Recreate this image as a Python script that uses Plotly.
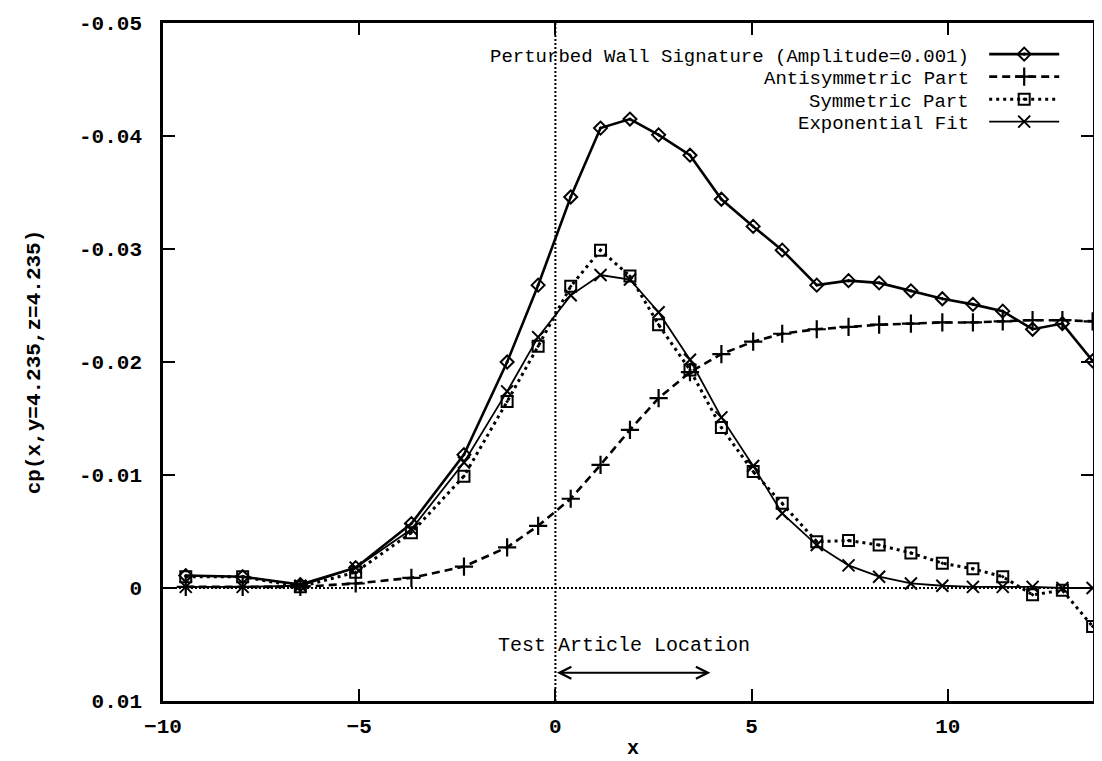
import plotly.graph_objects as go

# ---- data ----
x_vals = [-9.42, -7.97, -6.50, -5.09, -3.67, -2.33, -1.23, -0.44, 0.39, 1.15,
          1.90, 2.63, 3.43, 4.23, 5.04, 5.78, 6.66, 7.47, 8.25, 9.06,
          9.86, 10.64, 11.40, 12.16, 12.92, 13.69]

perturbed = [-0.0011, -0.0010, -0.0003, -0.0018, -0.0057, -0.0118, -0.0200, -0.0268, -0.0346, -0.0407,
             -0.0415, -0.0401, -0.0383, -0.0344, -0.0320, -0.0299, -0.0268, -0.0272, -0.0270, -0.0263,
             -0.0256, -0.0251, -0.0245, -0.0229, -0.0234, -0.0201]

antisymmetric = [-0.0001, -0.0001, -0.0001, -0.0004, -0.0009, -0.0019, -0.0036, -0.0055, -0.0079, -0.0109,
                 -0.0140, -0.0168, -0.0191, -0.0207, -0.0218, -0.0225, -0.0229, -0.0231, -0.0233, -0.0234,
                 -0.0235, -0.0235, -0.0236, -0.0237, -0.0237, -0.0236]

symmetric = [-0.0010, -0.0010, -0.0001, -0.0014, -0.0049, -0.0099, -0.0165, -0.0214, -0.0267, -0.0299,
             -0.0276, -0.0233, -0.0193, -0.0142, -0.0103, -0.0075, -0.0041, -0.0042, -0.0038, -0.0031,
             -0.0022, -0.0017, -0.0010, 0.0006, 0.0002, 0.0034]

exp_fit = [-0.0001, -0.0001, -0.0002, -0.0018, -0.0052, -0.0111, -0.0174, -0.0222, -0.0259, -0.0277,
           -0.0273, -0.0244, -0.0202, -0.0151, -0.0108, -0.0066, -0.0038, -0.0020, -0.0010, -0.0004,
           -0.0002, -0.0001, -0.0001, -0.0001, 0.0000, 0.0000]

series_names = ["Perturbed Wall Signature (Amplitude=0.001)",
                "Antisymmetric Part",
                "Symmetric Part",
                "Exponential Fit"]

x_ticks = [-10, -5, 0, 5, 10]
y_ticks = [-0.05, -0.04, -0.03, -0.02, -0.01, 0, 0.01]
y_tick_labels = ["-0.05", "-0.04", "-0.03", "-0.02", "-0.01", "0", "0.01"]

x_range = [-10, 13.7]
y_range = [0.01, -0.05]

x_title = "x"
y_title = "cp(x,y=4.235,z=4.235)"

article_start = 0
article_end = 3.95
article_level = 0.0075
article_label = "Test Article Location"
article_label_pos = (1.74, 0.0051)

FONT = "Liberation Mono, Courier New, monospace"
INK = "black"

styles = [
    dict(line=dict(color=INK, width=2.6, dash="solid"),
         marker=dict(symbol="diamond-open-dot", size=10, color=INK, line=dict(width=2, color=INK))),
    dict(line=dict(color=INK, width=2.6, dash="8px,5px"),
         marker=dict(symbol="cross-thin-open", size=13, color=INK, line=dict(width=2.2, color=INK))),
    dict(line=dict(color=INK, width=3, dash="3px,4px"),
         marker=dict(symbol="square-open-dot", size=11, color=INK, line=dict(width=2, color=INK))),
    dict(line=dict(color=INK, width=1.8, dash="solid"),
         marker=dict(symbol="x-thin-open", size=12, color=INK, line=dict(width=2, color=INK))),
]

series = [perturbed, antisymmetric, symmetric, exp_fit]

fig = go.Figure()
for name, ys, st in zip(series_names, series, styles):
    fig.add_trace(go.Scatter(x=x_vals, y=ys, mode="lines+markers", name=" ",
                             line=st["line"], marker=st["marker"], showlegend=True,
                             hoverinfo="skip"))

# zero axes (gnuplot style dotted)
fig.add_hline(y=0, line=dict(color=INK, width=2, dash="2px,2px"), layer="below")
fig.add_vline(x=0, line=dict(color=INK, width=2, dash="2px,2px"), layer="below")

# legend texts, right aligned like gnuplot key
legend_rows_y = [0.950, 0.917, 0.884, 0.851]
annotations = []
for name, yy in zip(series_names, legend_rows_y):
    annotations.append(dict(text=name, xref="paper", yref="paper", x=0.869, y=yy,
                            xanchor="right", yanchor="middle", showarrow=False,
                            font=dict(family=FONT, size=19, color=INK)))

# x axis title (placed as text below the tick labels)
annotations.append(dict(text=x_title, xref="paper", yref="paper", x=0.505, y=-0.070,
                        xanchor="center", yanchor="middle", showarrow=False,
                        font=dict(family=FONT, size=20, color=INK, weight="bold")))

annotations.append(dict(text=article_label, x=article_label_pos[0], y=article_label_pos[1],
                        xref="x", yref="y", showarrow=False, xanchor="center", yanchor="middle",
                        font=dict(family=FONT, size=20, color=INK)))
annotations.append(dict(text="", x=article_end, y=article_level, ax=article_start, ay=article_level,
                        xref="x", yref="y", axref="x", ayref="y", showarrow=True,
                        arrowhead=5, startarrowhead=5, arrowside="end+start",
                        arrowsize=1.3, startarrowsize=1.3, arrowwidth=1.8, arrowcolor=INK))

axis_common = dict(showline=True, linecolor=INK, linewidth=2.6, mirror="allticks",
                   ticks="inside", ticklen=12, tickwidth=2, tickcolor=INK,
                   showgrid=False, zeroline=False, automargin=False,
                   tickfont=dict(family=FONT, size=21, color=INK, weight="bold"))

fig.update_layout(
    width=1086, height=753,
    margin=dict(l=155, r=1, t=15, b=60),
    paper_bgcolor="white", plot_bgcolor="white",
    font=dict(family=FONT, color=INK),
    xaxis=dict(range=x_range, tickvals=x_ticks, ticklabelstandoff=4, **axis_common),
    yaxis=dict(range=y_range, autorange=False, tickvals=y_ticks, ticktext=y_tick_labels,
               ticklabelstandoff=14,
               title=dict(text=y_title,
                          font=dict(family=FONT, size=21, color=INK, weight="bold"), standoff=33),
               **axis_common),
    legend=dict(x=0.883, y=0.978, xanchor="left", yanchor="top", bgcolor="rgba(0,0,0,0)",
                font=dict(family=FONT, size=15), itemwidth=70, tracegroupgap=0,
                itemclick=False, itemdoubleclick=False),
    annotations=annotations,
    showlegend=True,
)

fig.write_html("out.html")
